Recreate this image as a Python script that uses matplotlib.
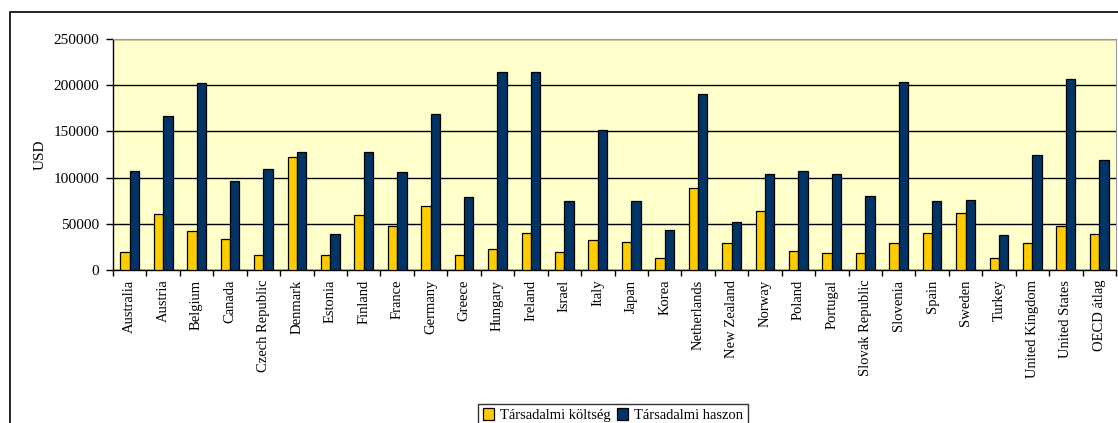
import numpy as np
import matplotlib.pyplot as plt
from matplotlib.patches import Rectangle

countries = [
    "Australia", "Austria", "Belgium", "Canada", "Czech Republic", "Denmark",
    "Estonia", "Finland", "France", "Germany", "Greece", "Hungary", "Ireland",
    "Israel", "Italy", "Japan", "Korea", "Netherlands", "New Zealand", "Norway",
    "Poland", "Portugal", "Slovak Republic", "Slovenia", "Spain", "Sweden",
    "Turkey", "United Kingdom", "United States", "OECD átlag",
]
# Társadalmi költség (social cost), USD
koltseg = [
    19000, 60500, 42000, 33500, 16500, 122000, 16500, 59000, 47500, 69000,
    16500, 22500, 40500, 19000, 32000, 30500, 13500, 88500, 29000, 63500,
    21000, 18000, 18000, 29000, 40500, 62000, 12500, 29000, 47500, 39500,
]
# Társadalmi haszon (social benefit), USD
haszon = [
    107500, 167000, 202500, 96500, 109000, 127500, 39000, 127500, 106000, 169000,
    79000, 214000, 214000, 74500, 151500, 74500, 43500, 191000, 52000, 103500,
    107500, 103500, 80500, 204000, 74500, 76000, 38000, 124500, 207000, 119000,
]

W, H = 1118, 423
plt.rcParams['font.family'] = ['Liberation Serif', 'DejaVu Serif']
plt.rcParams['font.size'] = 11

fig = plt.figure(figsize=(W / 100, H / 100), dpi=100)
ax = fig.add_axes([113 / W, 1 - 270 / H, (1116 - 113) / W, (270 - 39) / H])

# outer chart border (only left and top visible in the reference)
fig.patches.append(Rectangle((10 / W, -0.2), 1.5, 1.2 - 12 / H, transform=fig.transFigure,
                             fill=False, edgecolor='black', linewidth=1.2, zorder=0))

x = np.arange(len(countries))
bw = 0.28
ax.bar(x - bw / 2, koltseg, width=bw, color='#FFCC00', edgecolor='black', linewidth=0.9,
       label='Társadalmi költség', zorder=3)
ax.bar(x + bw / 2, haszon, width=bw, color='#003366', edgecolor='black', linewidth=0.9,
       label='Társadalmi haszon', zorder=3)

ax.set_facecolor('#FFFFCC')
ax.set_xlim(-0.5, len(countries) - 0.5)
ax.set_ylim(0, 250000)
ax.set_yticks(np.arange(0, 250001, 50000))
ax.yaxis.grid(True, color='black', linewidth=1.0, zorder=1)
ax.set_axisbelow(True)

ax.set_xticks(x)
ax.set_xticklabels(countries, rotation=90, va='top', fontsize=10.5)
ax.set_xticks(np.arange(-0.5, len(countries), 1), minor=True)
ax.tick_params(axis='x', which='major', length=0, pad=7)
ax.tick_params(axis='x', which='minor', length=4, width=1, direction='out')
ax.tick_params(axis='y', length=5, width=1, direction='out', pad=5)

for side in ('top', 'right'):
    ax.spines[side].set_color('#999999')
for side in ('left', 'bottom'):
    ax.spines[side].set_color('black')
    ax.spines[side].set_linewidth(1.0)

ax.set_ylabel('USD')
ax.yaxis.set_label_coords(-0.066, 0.5)

leg = fig.legend(loc='upper center', bbox_to_anchor=(613 / W, 1 - 404 / H), ncol=2,
                 frameon=True, fancybox=False, edgecolor='black', handlelength=0.8,
                 handleheight=0.8, handletextpad=0.4, columnspacing=0.4,
                 borderpad=0.3, borderaxespad=0, fontsize=10.5)
leg.get_frame().set_linewidth(1.0)

fig.savefig('out.png', dpi=100)
